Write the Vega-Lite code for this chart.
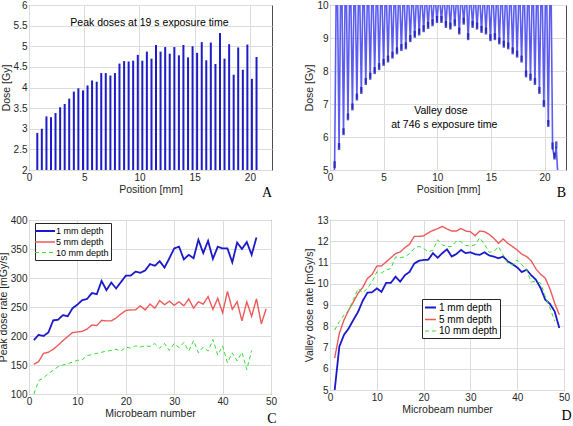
{
  "$schema": "https://vega.github.io/schema/vega-lite/v6.json",
  "background": "white",
  "padding": {"left": -3, "top": -1, "right": 0, "bottom": 0},
  "bounds": "flush",
  "columns": 2,
  "spacing": {"row": 50, "column": 58},
  "resolve": {
    "scale": {"color": "independent", "strokeDash": "independent", "strokeWidth": "independent"},
    "legend": {"color": "independent", "strokeDash": "independent", "strokeWidth": "independent"}
  },
  "config": {
    "font": "Liberation Sans",
    "view": {"stroke": "#4d4d4d", "strokeWidth": 1},
    "axis": {"domain": false, "ticks": false, "grid": true, "gridColor": "#dcdcdc", "labelFlush": false, "labelOverlap": false, "labelFontSize": 10, "labelColor": "#262626", "titleFontSize": 10.5, "titleFontWeight": "normal", "titleColor": "#262626", "labelPadding": 2, "titlePadding": 2, "labelFont": "Liberation Sans", "titleFont": "Liberation Sans"},
    "title": {"font": "Liberation Serif", "fontSize": 14, "fontWeight": "normal", "orient": "bottom", "anchor": "end", "color": "black"}
  },
  "datasets": {
    "peaks": [
      {"pos": 0.75, "dose": 2.9}, {"pos": 1.16, "dose": 3.0}, {"pos": 1.58, "dose": 3.3}, {"pos": 1.99, "dose": 3.28}, {"pos": 2.4, "dose": 3.38}, {"pos": 2.82, "dose": 3.52}, {"pos": 3.23, "dose": 3.6}, {"pos": 3.64, "dose": 3.73}, {"pos": 4.06, "dose": 3.9}, {"pos": 4.47, "dose": 3.98},
      {"pos": 4.89, "dose": 3.93}, {"pos": 5.3, "dose": 4.05}, {"pos": 5.71, "dose": 4.17}, {"pos": 6.13, "dose": 4.14}, {"pos": 6.54, "dose": 4.35}, {"pos": 6.95, "dose": 4.35}, {"pos": 7.37, "dose": 4.29}, {"pos": 7.78, "dose": 4.35}, {"pos": 8.19, "dose": 4.58}, {"pos": 8.61, "dose": 4.64},
      {"pos": 9.02, "dose": 4.63}, {"pos": 9.43, "dose": 4.65}, {"pos": 9.85, "dose": 4.79}, {"pos": 10.26, "dose": 4.65}, {"pos": 10.67, "dose": 4.87}, {"pos": 11.09, "dose": 4.7}, {"pos": 11.5, "dose": 5.03}, {"pos": 11.91, "dose": 4.87}, {"pos": 12.33, "dose": 4.98}, {"pos": 12.74, "dose": 4.82},
      {"pos": 13.16, "dose": 4.98}, {"pos": 13.57, "dose": 4.78}, {"pos": 13.98, "dose": 5.03}, {"pos": 14.4, "dose": 4.73}, {"pos": 14.81, "dose": 5.0}, {"pos": 15.22, "dose": 4.84}, {"pos": 15.64, "dose": 5.1}, {"pos": 16.05, "dose": 4.66}, {"pos": 16.46, "dose": 5.09}, {"pos": 16.88, "dose": 4.57},
      {"pos": 17.29, "dose": 5.32}, {"pos": 17.7, "dose": 4.7}, {"pos": 18.12, "dose": 5.05}, {"pos": 18.53, "dose": 4.31}, {"pos": 18.94, "dose": 4.97}, {"pos": 19.36, "dose": 4.43}, {"pos": 19.77, "dose": 5.04}, {"pos": 20.18, "dose": 4.21}, {"pos": 20.6, "dose": 4.74}
    ],
    "profile": [
      {"x": 0.36, "y": 4.8}, {"x": 0.43, "y": 5.1}, {"x": 0.57, "y": 10.1},
      {"x": 0.705, "y": 10.1}, {"x": 0.845, "y": 5.65}, {"x": 0.985, "y": 10.1},
      {"x": 1.12, "y": 10.1}, {"x": 1.26, "y": 6.1}, {"x": 1.4, "y": 10.1},
      {"x": 1.535, "y": 10.1}, {"x": 1.675, "y": 6.55}, {"x": 1.815, "y": 10.1},
      {"x": 1.95, "y": 10.1}, {"x": 2.09, "y": 6.85}, {"x": 2.23, "y": 10.1},
      {"x": 2.365, "y": 10.1}, {"x": 2.505, "y": 7.15}, {"x": 2.645, "y": 10.1},
      {"x": 2.78, "y": 10.1}, {"x": 2.92, "y": 7.35}, {"x": 3.06, "y": 10.1},
      {"x": 3.195, "y": 10.1}, {"x": 3.335, "y": 7.62}, {"x": 3.475, "y": 10.1},
      {"x": 3.61, "y": 10.1}, {"x": 3.75, "y": 7.78}, {"x": 3.89, "y": 10.1},
      {"x": 4.025, "y": 10.1}, {"x": 4.165, "y": 7.95}, {"x": 4.305, "y": 10.1},
      {"x": 4.44, "y": 10.1}, {"x": 4.58, "y": 8.07}, {"x": 4.72, "y": 10.1},
      {"x": 4.855, "y": 10.1}, {"x": 4.995, "y": 8.2}, {"x": 5.135, "y": 10.1},
      {"x": 5.27, "y": 10.1}, {"x": 5.41, "y": 8.3}, {"x": 5.55, "y": 10.1},
      {"x": 5.685, "y": 10.1}, {"x": 5.825, "y": 8.42}, {"x": 5.965, "y": 10.1},
      {"x": 6.1, "y": 10.1}, {"x": 6.24, "y": 8.55}, {"x": 6.38, "y": 10.1},
      {"x": 6.515, "y": 10.1}, {"x": 6.655, "y": 8.65}, {"x": 6.795, "y": 10.1},
      {"x": 6.93, "y": 10.1}, {"x": 7.07, "y": 8.7}, {"x": 7.21, "y": 10.1},
      {"x": 7.345, "y": 10.1}, {"x": 7.485, "y": 8.92}, {"x": 7.625, "y": 10.1},
      {"x": 7.76, "y": 10.1}, {"x": 7.9, "y": 9.05}, {"x": 8.04, "y": 10.1},
      {"x": 8.175, "y": 10.1}, {"x": 8.315, "y": 9.12}, {"x": 8.455, "y": 10.1},
      {"x": 8.59, "y": 10.1}, {"x": 8.73, "y": 9.22}, {"x": 8.87, "y": 10.1},
      {"x": 9.005, "y": 10.1}, {"x": 9.145, "y": 9.32}, {"x": 9.285, "y": 10.1},
      {"x": 9.42, "y": 10.1}, {"x": 9.56, "y": 9.4}, {"x": 9.7, "y": 10.1},
      {"x": 9.835, "y": 10.1}, {"x": 9.975, "y": 9.5}, {"x": 10.115, "y": 10.1},
      {"x": 10.25, "y": 10.1}, {"x": 10.39, "y": 9.5}, {"x": 10.53, "y": 10.1},
      {"x": 10.665, "y": 10.1}, {"x": 10.805, "y": 9.35}, {"x": 10.945, "y": 10.1},
      {"x": 11.08, "y": 10.1}, {"x": 11.22, "y": 9.3}, {"x": 11.36, "y": 10.1},
      {"x": 11.495, "y": 10.1}, {"x": 11.635, "y": 9.4}, {"x": 11.775, "y": 10.1},
      {"x": 11.91, "y": 10.1}, {"x": 12.05, "y": 9.15}, {"x": 12.19, "y": 10.1},
      {"x": 12.325, "y": 10.1}, {"x": 12.465, "y": 9.45}, {"x": 12.605, "y": 10.1},
      {"x": 12.74, "y": 10.1}, {"x": 12.88, "y": 8.98}, {"x": 13.02, "y": 10.1},
      {"x": 13.155, "y": 10.1}, {"x": 13.295, "y": 9.35}, {"x": 13.435, "y": 10.1},
      {"x": 13.57, "y": 10.1}, {"x": 13.71, "y": 9.3}, {"x": 13.85, "y": 10.1},
      {"x": 13.985, "y": 10.1}, {"x": 14.125, "y": 9.2}, {"x": 14.265, "y": 10.1},
      {"x": 14.4, "y": 10.1}, {"x": 14.54, "y": 9.15}, {"x": 14.68, "y": 10.1},
      {"x": 14.815, "y": 10.1}, {"x": 14.955, "y": 8.95}, {"x": 15.095, "y": 10.1},
      {"x": 15.23, "y": 10.1}, {"x": 15.37, "y": 8.98}, {"x": 15.51, "y": 10.1},
      {"x": 15.645, "y": 10.1}, {"x": 15.785, "y": 8.85}, {"x": 15.925, "y": 10.1},
      {"x": 16.06, "y": 10.1}, {"x": 16.2, "y": 8.75}, {"x": 16.34, "y": 10.1},
      {"x": 16.475, "y": 10.1}, {"x": 16.615, "y": 8.7}, {"x": 16.755, "y": 10.1},
      {"x": 16.89, "y": 10.1}, {"x": 17.03, "y": 8.55}, {"x": 17.17, "y": 10.1},
      {"x": 17.305, "y": 10.1}, {"x": 17.445, "y": 8.45}, {"x": 17.585, "y": 10.1},
      {"x": 17.72, "y": 10.1}, {"x": 17.86, "y": 8.3}, {"x": 18.0, "y": 10.1},
      {"x": 18.135, "y": 10.1}, {"x": 18.275, "y": 7.85}, {"x": 18.415, "y": 10.1},
      {"x": 18.55, "y": 10.1}, {"x": 18.69, "y": 7.75}, {"x": 18.83, "y": 10.1},
      {"x": 18.965, "y": 10.1}, {"x": 19.105, "y": 7.62}, {"x": 19.245, "y": 10.1},
      {"x": 19.38, "y": 10.1}, {"x": 19.52, "y": 7.35}, {"x": 19.66, "y": 10.1},
      {"x": 19.795, "y": 10.1}, {"x": 19.935, "y": 6.95}, {"x": 20.075, "y": 10.1},
      {"x": 20.21, "y": 10.1}, {"x": 20.35, "y": 6.35}, {"x": 20.49, "y": 10.1},
      {"x": 20.62, "y": 10.1}, {"x": 20.75, "y": 5.67}, {"x": 20.93, "y": 5.36}, {"x": 21.09, "y": 5.7}, {"x": 21.25, "y": 4.8}
    ],
    "peakRate": [
      {"n": 1, "mm1": 193, "mm5": 151, "mm10": 100}, {"n": 2, "mm1": 202, "mm5": 156, "mm10": 123}, {"n": 3, "mm1": 200, "mm5": 170, "mm10": 128}, {"n": 4, "mm1": 206, "mm5": 172, "mm10": 135}, {"n": 5, "mm1": 227, "mm5": 177, "mm10": 141},
      {"n": 6, "mm1": 228, "mm5": 184, "mm10": 147}, {"n": 7, "mm1": 236, "mm5": 192, "mm10": 150}, {"n": 8, "mm1": 234, "mm5": 199, "mm10": 152}, {"n": 9, "mm1": 248, "mm5": 206, "mm10": 155}, {"n": 10, "mm1": 254, "mm5": 207, "mm10": 158},
      {"n": 11, "mm1": 262, "mm5": 208, "mm10": 159}, {"n": 12, "mm1": 264, "mm5": 212, "mm10": 166}, {"n": 13, "mm1": 274, "mm5": 219, "mm10": 168}, {"n": 14, "mm1": 272, "mm5": 218, "mm10": 170}, {"n": 15, "mm1": 295, "mm5": 227, "mm10": 172},
      {"n": 16, "mm1": 279, "mm5": 226, "mm10": 174}, {"n": 17, "mm1": 292, "mm5": 226, "mm10": 175}, {"n": 18, "mm1": 282, "mm5": 231, "mm10": 177}, {"n": 19, "mm1": 293, "mm5": 238, "mm10": 174}, {"n": 20, "mm1": 304, "mm5": 244, "mm10": 181},
      {"n": 21, "mm1": 304, "mm5": 245, "mm10": 179}, {"n": 22, "mm1": 311, "mm5": 245, "mm10": 183}, {"n": 23, "mm1": 309, "mm5": 252, "mm10": 181}, {"n": 24, "mm1": 313, "mm5": 245, "mm10": 183}, {"n": 25, "mm1": 324, "mm5": 255, "mm10": 182},
      {"n": 26, "mm1": 321, "mm5": 248, "mm10": 187}, {"n": 27, "mm1": 329, "mm5": 261, "mm10": 179}, {"n": 28, "mm1": 318, "mm5": 254, "mm10": 187}, {"n": 29, "mm1": 334, "mm5": 260, "mm10": 175}, {"n": 30, "mm1": 351, "mm5": 253, "mm10": 187},
      {"n": 31, "mm1": 354, "mm5": 259, "mm10": 180}, {"n": 32, "mm1": 332, "mm5": 252, "mm10": 189}, {"n": 33, "mm1": 340, "mm5": 264, "mm10": 174}, {"n": 34, "mm1": 334, "mm5": 248, "mm10": 192}, {"n": 35, "mm1": 366, "mm5": 259, "mm10": 171},
      {"n": 36, "mm1": 343, "mm5": 255, "mm10": 181}, {"n": 37, "mm1": 364, "mm5": 268, "mm10": 174}, {"n": 38, "mm1": 333, "mm5": 246, "mm10": 194}, {"n": 39, "mm1": 354, "mm5": 265, "mm10": 167}, {"n": 40, "mm1": 351, "mm5": 240, "mm10": 183},
      {"n": 41, "mm1": 351, "mm5": 277, "mm10": 154}, {"n": 42, "mm1": 327, "mm5": 246, "mm10": 171}, {"n": 43, "mm1": 361, "mm5": 259, "mm10": 157}, {"n": 44, "mm1": 350, "mm5": 226, "mm10": 172}, {"n": 45, "mm1": 362, "mm5": 259, "mm10": 142},
      {"n": 46, "mm1": 340, "mm5": 234, "mm10": 175}, {"n": 47, "mm1": 370, "mm5": 264}, {"n": 48, "mm5": 221}, {"n": 49, "mm5": 247}
    ],
    "valleyRate": [
      {"n": 1, "mm1": 5.0, "mm5": 6.5, "mm10": 7.82}, {"n": 2, "mm1": 7.05, "mm5": 7.67, "mm10": 8.22}, {"n": 3, "mm1": 7.6, "mm5": 8.3, "mm10": 8.53}, {"n": 4, "mm1": 7.9, "mm5": 8.76, "mm10": 8.76}, {"n": 5, "mm1": 8.3, "mm5": 9.15, "mm10": 9.26},
      {"n": 6, "mm1": 8.68, "mm5": 9.55, "mm10": 9.78}, {"n": 7, "mm1": 9.2, "mm5": 9.83, "mm10": 9.58}, {"n": 8, "mm1": 9.58, "mm5": 10.25, "mm10": 9.78}, {"n": 9, "mm1": 9.6, "mm5": 10.44, "mm10": 10.09}, {"n": 10, "mm1": 9.78, "mm5": 10.83, "mm10": 10.56},
      {"n": 11, "mm1": 9.62, "mm5": 10.84, "mm10": 10.51}, {"n": 12, "mm1": 10.04, "mm5": 11.03, "mm10": 10.64}, {"n": 13, "mm1": 10.04, "mm5": 11.22, "mm10": 10.72}, {"n": 14, "mm1": 10.33, "mm5": 11.42, "mm10": 11.26}, {"n": 15, "mm1": 10.1, "mm5": 11.5, "mm10": 11.23},
      {"n": 16, "mm1": 10.4, "mm5": 11.7, "mm10": 11.26}, {"n": 17, "mm1": 10.56, "mm5": 11.86, "mm10": 11.42}, {"n": 18, "mm1": 10.95, "mm5": 12.23, "mm10": 11.66}, {"n": 19, "mm1": 11.08, "mm5": 12.23, "mm10": 11.76}, {"n": 20, "mm1": 11.12, "mm5": 12.25, "mm10": 11.66},
      {"n": 21, "mm1": 11.13, "mm5": 12.4, "mm10": 11.5}, {"n": 22, "mm1": 11.44, "mm5": 12.51, "mm10": 11.58}, {"n": 23, "mm1": 11.22, "mm5": 12.59, "mm10": 12.07}, {"n": 24, "mm1": 11.44, "mm5": 12.7, "mm10": 11.83}, {"n": 25, "mm1": 11.62, "mm5": 12.58, "mm10": 11.75},
      {"n": 26, "mm1": 11.28, "mm5": 12.48, "mm10": 11.75}, {"n": 27, "mm1": 11.4, "mm5": 12.48, "mm10": 12.01}, {"n": 28, "mm1": 11.59, "mm5": 12.6, "mm10": 11.98}, {"n": 29, "mm1": 11.44, "mm5": 12.48, "mm10": 11.8}, {"n": 30, "mm1": 11.48, "mm5": 12.45, "mm10": 11.78},
      {"n": 31, "mm1": 11.39, "mm5": 12.26, "mm10": 11.83}, {"n": 32, "mm1": 11.36, "mm5": 12.48, "mm10": 12.17}, {"n": 33, "mm1": 11.48, "mm5": 12.45, "mm10": 11.86}, {"n": 34, "mm1": 11.33, "mm5": 12.33, "mm10": 11.48}, {"n": 35, "mm1": 11.28, "mm5": 12.14, "mm10": 11.51},
      {"n": 36, "mm1": 11.2, "mm5": 11.9, "mm10": 11.75}, {"n": 37, "mm1": 11.28, "mm5": 12.11, "mm10": 11.36}, {"n": 38, "mm1": 11.05, "mm5": 11.9, "mm10": 10.97}, {"n": 39, "mm1": 10.92, "mm5": 11.75, "mm10": 10.89}, {"n": 40, "mm1": 10.77, "mm5": 11.59, "mm10": 11.12},
      {"n": 41, "mm1": 10.55, "mm5": 11.39, "mm10": 10.89}, {"n": 42, "mm1": 10.66, "mm5": 11.28, "mm10": 10.66}, {"n": 43, "mm1": 10.4, "mm5": 11.08, "mm10": 10.08}, {"n": 44, "mm1": 10.19, "mm5": 10.7, "mm10": 10.11}, {"n": 45, "mm1": 9.8, "mm5": 10.45, "mm10": 10.03},
      {"n": 46, "mm1": 9.25, "mm5": 10.26, "mm10": 9.41}, {"n": 47, "mm1": 9.05, "mm5": 9.76, "mm10": 8.86}, {"n": 48, "mm1": 8.7, "mm5": 9.09, "mm10": 8.25}, {"n": 49, "mm1": 7.92, "mm5": 8.54}
    ]
  },
  "concat": [
    {
      "width": 243, "height": 165,
      "title": {"text": "A", "offset": -9},
      "data": {"name": "peaks"},
      "layer": [
        {
          "mark": {"type": "rule", "strokeWidth": 2, "color": "#1c1cc8"},
          "encoding": {
            "x": {"field": "pos", "type": "quantitative", "scale": {"domain": [0, 22]}, "axis": {"values": [0, 5, 10, 15, 20], "title": "Position [mm]", "labelOverlap": false}},
            "y": {"field": "dose", "type": "quantitative", "scale": {"domain": [2, 6]}, "axis": {"values": [2, 2.5, 3, 3.5, 4, 4.5, 5, 5.5, 6], "title": "Dose [Gy]", "labelOverlap": false, "format": "~r"}},
            "y2": {"datum": 2}
          }
        },
        {
          "data": {"values": [{}]},
          "mark": {"type": "text", "fontSize": 10.5, "color": "black"},
          "encoding": {
            "x": {"datum": 10.9, "type": "quantitative", "scale": {"domain": [0, 22]}, "axis": {"values": [0, 5, 10, 15, 20], "title": "Position [mm]", "labelOverlap": false}},
            "y": {"datum": 5.56, "type": "quantitative", "scale": {"domain": [2, 6]}, "axis": {"values": [2, 2.5, 3, 3.5, 4, 4.5, 5, 5.5, 6], "title": "Dose [Gy]", "labelOverlap": false, "format": "~r"}},
            "text": {"value": "Peak doses at 19 s exposure time"}
          }
        }
      ]
    },
    {
      "width": 236, "height": 165,
      "title": {"text": "B", "offset": -9},
      "data": {"name": "profile"},
      "layer": [
        {
          "mark": {"type": "line", "clip": true, "strokeWidth": 1.6, "color": "#5c5cf0"},
          "encoding": {
            "x": {"field": "x", "type": "quantitative", "scale": {"domain": [0, 22]}, "axis": {"values": [0, 5, 10, 15, 20], "title": "Position [mm]", "labelOverlap": false}},
            "y": {"field": "y", "type": "quantitative", "scale": {"domain": [5, 10]}, "axis": {"values": [5, 6, 7, 8, 9, 10], "title": "Dose [Gy]", "labelOverlap": false}}
          }
        },
        {
          "transform": [{"filter": "datum.y < 10"}],
          "mark": {"type": "tick", "orient": "vertical", "clip": true, "size": 7, "thickness": 2.5, "yOffset": -2, "color": "#1414b4"},
          "encoding": {
            "x": {"field": "x", "type": "quantitative", "scale": {"domain": [0, 22]}, "axis": {"values": [0, 5, 10, 15, 20], "title": "Position [mm]", "labelOverlap": false}},
            "y": {"field": "y", "type": "quantitative", "scale": {"domain": [5, 10]}, "axis": {"values": [5, 6, 7, 8, 9, 10], "title": "Dose [Gy]", "labelOverlap": false}}
          }
        },
        {
          "data": {"values": [{}]},
          "mark": {"type": "text", "fontSize": 10.5, "color": "black"},
          "encoding": {
            "x": {"datum": 10.34, "type": "quantitative", "scale": {"domain": [0, 22]}, "axis": {"values": [0, 5, 10, 15, 20], "title": "Position [mm]", "labelOverlap": false}},
            "y": {"datum": 6.79, "type": "quantitative", "scale": {"domain": [5, 10]}, "axis": {"values": [5, 6, 7, 8, 9, 10], "title": "Dose [Gy]", "labelOverlap": false}},
            "text": {"value": "Valley dose"}
          }
        },
        {
          "data": {"values": [{}]},
          "mark": {"type": "text", "fontSize": 10.5, "color": "black"},
          "encoding": {
            "x": {"datum": 10.65, "type": "quantitative", "scale": {"domain": [0, 22]}, "axis": {"values": [0, 5, 10, 15, 20], "title": "Position [mm]", "labelOverlap": false}},
            "y": {"datum": 6.36, "type": "quantitative", "scale": {"domain": [5, 10]}, "axis": {"values": [5, 6, 7, 8, 9, 10], "title": "Dose [Gy]", "labelOverlap": false}},
            "text": {"value": "at 746 s exposure time"}
          }
        }
      ]
    },
    {
      "width": 242, "height": 174,
      "title": {"text": "C", "offset": -7},
      "data": {"name": "peakRate"},
      "transform": [
        {"fold": ["mm1", "mm5", "mm10"], "as": ["depth", "rate"]},
        {"filter": "isValid(datum.rate)"}
      ],
      "mark": {"type": "line"},
      "encoding": {
        "x": {"field": "n", "type": "quantitative", "scale": {"domain": [0, 50]}, "axis": {"values": [0, 10, 20, 30, 40, 50], "title": "Microbeam number"}},
        "y": {"field": "rate", "type": "quantitative", "scale": {"domain": [100, 400]}, "axis": {"values": [100, 150, 200, 250, 300, 350, 400], "title": "Peak dose rate [mGy/s]"}},
        "color": {"field": "depth", "type": "nominal", "scale": {"domain": ["mm1", "mm5", "mm10"], "range": ["#1a1acc", "#ee5a5a", "#33dd33"]},
          "legend": {"title": null, "orient": "none", "legendX": 6, "legendY": 3, "fillColor": "white", "strokeColor": "#262626", "padding": 2, "labelFontSize": 9, "rowPadding": 0, "symbolSize": 100, "symbolType": "M-2,0L2,0", "symbolOffset": 2, "labelOffset": 5, "labelColor": "black", "labelExpr": "{'mm1': '1 mm depth', 'mm5': '5 mm depth', 'mm10': '10 mm depth'}[datum.value]"}},
        "strokeDash": {"field": "depth", "type": "nominal", "scale": {"domain": ["mm1", "mm5", "mm10"], "range": [[1, 0], [1, 0], [4, 3]]},
          "legend": {"title": null, "orient": "none", "legendX": 6, "legendY": 3, "fillColor": "white", "strokeColor": "#262626", "padding": 2, "labelFontSize": 9, "rowPadding": 0, "symbolSize": 100, "symbolType": "M-2,0L2,0", "symbolOffset": 2, "labelOffset": 5, "labelColor": "black", "labelExpr": "{'mm1': '1 mm depth', 'mm5': '5 mm depth', 'mm10': '10 mm depth'}[datum.value]"}},
        "strokeWidth": {"field": "depth", "type": "nominal", "scale": {"domain": ["mm1", "mm5", "mm10"], "range": [1.8, 1, 1.5]},
          "legend": {"title": null, "orient": "none", "legendX": 6, "legendY": 3, "fillColor": "white", "strokeColor": "#262626", "padding": 2, "labelFontSize": 9, "rowPadding": 0, "symbolSize": 100, "symbolType": "M-2,0L2,0", "symbolOffset": 2, "labelOffset": 5, "labelColor": "black", "labelExpr": "{'mm1': '1 mm depth', 'mm5': '5 mm depth', 'mm10': '10 mm depth'}[datum.value]"}}
      }
    },
    {
      "width": 234, "height": 170,
      "title": {"text": "D", "offset": -6, "dx": 2},
      "data": {"name": "valleyRate"},
      "transform": [
        {"fold": ["mm1", "mm5", "mm10"], "as": ["depth", "rate"]},
        {"filter": "isValid(datum.rate)"}
      ],
      "mark": {"type": "line"},
      "encoding": {
        "x": {"field": "n", "type": "quantitative", "scale": {"domain": [0, 50]}, "axis": {"values": [0, 10, 20, 30, 40, 50], "title": "Microbeam number"}},
        "y": {"field": "rate", "type": "quantitative", "scale": {"domain": [5, 13]}, "axis": {"values": [5, 6, 7, 8, 9, 10, 11, 12, 13], "title": "Valley dose rate [mGy/s]"}},
        "color": {"field": "depth", "type": "nominal", "scale": {"domain": ["mm1", "mm5", "mm10"], "range": ["#1a1acc", "#ee5a5a", "#33dd33"]},
          "legend": {"title": null, "orient": "none", "legendX": 92, "legendY": 79, "fillColor": "white", "strokeColor": "#262626", "padding": 2, "labelFontSize": 10, "rowPadding": 0, "symbolSize": 121, "symbolType": "stroke", "labelOffset": 2, "labelColor": "black", "labelExpr": "{'mm1': '1 mm depth', 'mm5': '5 mm depth', 'mm10': '10 mm depth'}[datum.value]"}},
        "strokeDash": {"field": "depth", "type": "nominal", "scale": {"domain": ["mm1", "mm5", "mm10"], "range": [[1, 0], [1, 0], [4, 3]]},
          "legend": {"title": null, "orient": "none", "legendX": 92, "legendY": 79, "fillColor": "white", "strokeColor": "#262626", "padding": 2, "labelFontSize": 10, "rowPadding": 0, "symbolSize": 121, "symbolType": "stroke", "labelOffset": 2, "labelColor": "black", "labelExpr": "{'mm1': '1 mm depth', 'mm5': '5 mm depth', 'mm10': '10 mm depth'}[datum.value]"}},
        "strokeWidth": {"field": "depth", "type": "nominal", "scale": {"domain": ["mm1", "mm5", "mm10"], "range": [1.8, 1, 1.5]},
          "legend": {"title": null, "orient": "none", "legendX": 92, "legendY": 79, "fillColor": "white", "strokeColor": "#262626", "padding": 2, "labelFontSize": 10, "rowPadding": 0, "symbolSize": 121, "symbolType": "stroke", "labelOffset": 2, "labelColor": "black", "labelExpr": "{'mm1': '1 mm depth', 'mm5': '5 mm depth', 'mm10': '10 mm depth'}[datum.value]"}}
      }
    }
  ]
}
